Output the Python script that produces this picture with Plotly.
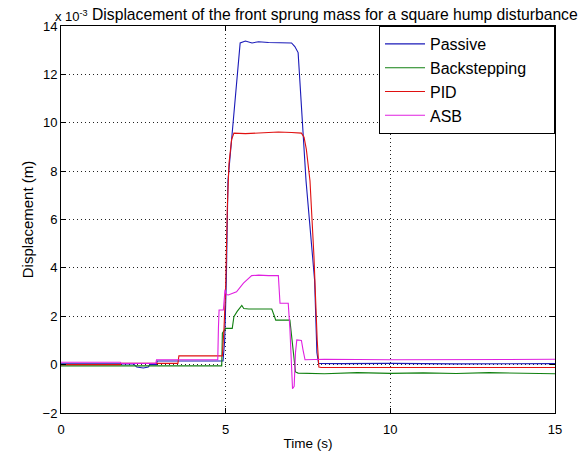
import plotly.graph_objects as go

# Time (s) and displacement (x 10^-3 m) breakpoints
t_passive = [0, 2.2, 2.3, 2.5, 2.65, 2.7, 2.9, 2.92, 4.92, 4.97, 5.02, 5.07, 5.44, 5.6, 5.8, 6.0,
             6.3, 6.6, 7.0, 7.1, 7.2, 7.44, 7.6, 7.7, 7.77, 7.82, 8.5, 10, 12, 15]
y_passive = [0.03, 0.03, -0.1, -0.14, -0.1, 0.0, 0.0, 0.15, 0.15, 1.0, 3.5, 7.6, 13.3, 13.38, 13.3,
             13.35, 13.32, 13.3, 13.3, 13.15, 12.9, 7.6, 5.2, 3.5, 0.5, 0.05, 0.04, 0.05, 0.03, 0.04]

t_bs = [0, 4.88, 4.9, 5.0, 5.2, 5.25, 5.35, 5.44, 5.49, 5.55, 5.7, 6.0, 6.4, 6.48, 6.52, 6.95,
        7.02, 7.08, 7.12, 7.2, 8, 9, 10, 11, 12, 13, 14, 15]
y_bs = [-0.05, -0.05, 1.3, 1.5, 1.5, 1.98, 2.2, 2.39, 2.45, 2.32, 2.3, 2.3, 2.3, 2.0, 1.84, 1.84,
        1.0, 0.2, -0.3, -0.35, -0.38, -0.33, -0.36, -0.34, -0.37, -0.33, -0.35, -0.38]

t_pid = [0, 1.8, 1.82, 3.55, 3.58, 4.9, 4.95, 5.0, 5.05, 5.1, 5.18, 5.25, 5.6, 6.0, 6.3, 6.6,
         7.0, 7.3, 7.38, 7.45, 7.56, 7.68, 7.78, 7.83, 7.9, 10, 15]
y_pid = [0.0, 0.0, 0.05, 0.05, 0.36, 0.36, 1.5, 3.2, 6.5, 8.3, 9.3, 9.57, 9.55, 9.57, 9.6, 9.62,
         9.6, 9.57, 9.4, 8.9, 7.6, 4.5, 1.0, -0.1, -0.12, -0.12, -0.12]

t_asb = [0, 1.8, 1.82, 2.88, 2.9, 4.76, 4.78, 4.8, 4.93, 4.98, 5.02, 5.08, 5.33, 5.54, 5.79, 6.0,
         6.3, 6.6, 6.65, 6.9, 6.95, 7.0, 7.03, 7.08, 7.12, 7.16, 7.3, 7.35, 7.41, 8, 10, 15]
y_asb = [0.1, 0.1, 0.05, 0.05, 0.2, 0.2, 1.5, 2.26, 2.26, 3.1, 2.9, 2.88, 3.01, 3.37, 3.68, 3.7,
         3.68, 3.68, 2.54, 2.54, 1.5, -0.5, -1.0, -0.9, 0.5, 1.02, 1.0, 0.6, 0.2, 0.22, 0.2, 0.22]

series = [
    ("Passive", t_passive, y_passive, "#1a1ab8"),
    ("Backstepping\u00a0\u00a0\u00a0\u00a0\u00a0", t_bs, y_bs, "#108010"),
    ("PID", t_pid, y_pid, "#e01010"),
    ("ASB", t_asb, y_asb, "#e020e0"),
]

x_ticks = [0, 5, 10, 15]
y_ticks = [-2, 0, 2, 4, 6, 8, 10, 12, 14]

FONT = "Liberation Sans, Arial"

fig = go.Figure()
for name, t, y, c in series:
    fig.add_trace(go.Scatter(x=t, y=y, mode="lines", name=name,
                             line=dict(color=c, width=1.1)))

axis_common = dict(
    showline=True, linecolor="black", linewidth=1, mirror="ticks",
    ticks="inside", ticklen=5, tickcolor="black",
    showgrid=True, gridcolor="#222222", gridwidth=1, griddash="1px,3px",
    zeroline=False, tickfont=dict(family=FONT, size=13, color="black"),
)

fig.update_xaxes(range=[0, 15], tickvals=x_ticks, ticklabelstandoff=4,
                 title=dict(text="Time (s)", font=dict(family=FONT, size=13.5, color="black"), standoff=2),
                 **axis_common)
fig.update_yaxes(range=[-2, 14], tickvals=y_ticks,
                 title=dict(text="Displacement (m)", font=dict(family=FONT, size=15, color="black"), standoff=5),
                 **axis_common)

fig.update_layout(
    width=579, height=462,
    margin=dict(l=61, r=24, t=26, b=49, autoexpand=False),
    paper_bgcolor="white", plot_bgcolor="white",
    font=dict(family=FONT, color="black"),
    legend=dict(x=1, y=1, xanchor="right", yanchor="top",
                bordercolor="black", borderwidth=1, bgcolor="white", itemwidth=40,
                font=dict(family=FONT, size=16, color="black"), tracegroupgap=0),
    annotations=[
        dict(text="x 10<sup>-3</sup>", xref="paper", yref="paper", x=-0.016, y=1,
             xanchor="left", yanchor="bottom", showarrow=False, yshift=0,
             font=dict(family=FONT, size=13, color="black")),
        dict(text="Displacement of the front sprung mass for a square hump disturbance",
             xref="paper", yref="paper", x=0.059, y=1, xanchor="left", yanchor="bottom",
             showarrow=False, yshift=1, font=dict(family=FONT, size=15.7, color="black")),
    ],
)

fig.write_html("out.html", config={"displayModeBar": False},
               post_script="document.body.style.margin='0';")
